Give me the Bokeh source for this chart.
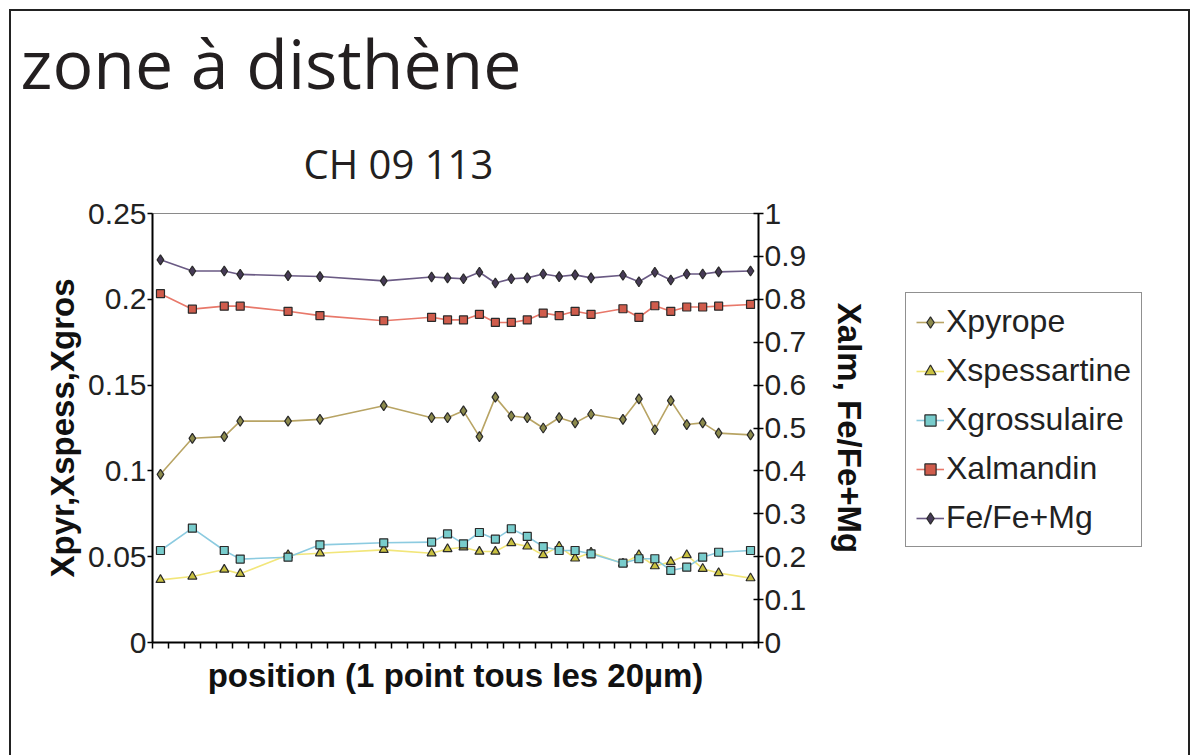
from bokeh.plotting import figure
from bokeh.layouts import row
from bokeh.models import (Range1d, LinearAxis, FixedTicker, Legend,
                          LegendItem, Title, InlineStyleSheet)
from bokeh.embed import file_html
from bokeh.resources import INLINE

# ---------------- data ----------------
TITLE = "zone à disthène"
SUBTITLE = "CH 09 113"
X_TITLE = "position (1 point tous les 20µm)"
Y_LEFT_TITLE = "Xpyr,Xspess,Xgros"
Y_RIGHT_TITLE = "Xalm, Fe/Fe+Mg"

N_CATEGORIES = 38
POSITION = [0, 2, 4, 5, 8, 10, 14, 17, 18, 19, 20, 21, 22, 23, 24, 25, 26, 27,
            29, 30, 31, 32, 33, 34, 35, 37]

X_PYROPE = [0.098, 0.119, 0.120, 0.129, 0.129, 0.130, 0.138, 0.131, 0.131,
            0.135, 0.120, 0.143, 0.132, 0.131, 0.125, 0.131, 0.128, 0.133,
            0.130, 0.142, 0.124, 0.141, 0.127, 0.128, 0.122, 0.121]
X_SPESSARTINE = [0.0365, 0.0385, 0.0425, 0.040, 0.051, 0.052, 0.054, 0.052,
                 0.0545, 0.0555, 0.053, 0.053, 0.058, 0.056, 0.051, 0.056,
                 0.049, 0.0525, 0.046, 0.051, 0.0445, 0.047, 0.051, 0.043,
                 0.0405, 0.0375]
X_GROSSULAIRE = [0.0536, 0.0666, 0.0536, 0.0486, 0.0497, 0.0569, 0.0581,
                 0.0585, 0.0633, 0.0575, 0.0641, 0.0602, 0.0663, 0.0618,
                 0.0559, 0.0536, 0.0536, 0.0517, 0.0462, 0.0488, 0.0488,
                 0.0420, 0.0439, 0.0497, 0.0526, 0.0536]
X_ALMANDIN = [0.813, 0.777, 0.784, 0.784, 0.772, 0.762, 0.750, 0.758, 0.752,
              0.752, 0.765, 0.746, 0.746, 0.752, 0.768, 0.762, 0.772, 0.765,
              0.778, 0.758, 0.785, 0.772, 0.782, 0.782, 0.784, 0.788]
FE_FE_MG = [0.892, 0.866, 0.866, 0.858, 0.855, 0.853, 0.843, 0.852, 0.850,
            0.848, 0.863, 0.838, 0.848, 0.850, 0.859, 0.853, 0.857, 0.850,
            0.856, 0.841, 0.863, 0.845, 0.859, 0.859, 0.864, 0.866]

LEFT_TICKS = [0, 0.05, 0.1, 0.15, 0.2, 0.25]
LEFT_TICK_LABELS = ["0", "0.05", "0.1", "0.15", "0.2", "0.25"]
RIGHT_TICKS = [0, 0.1, 0.2, 0.3, 0.4, 0.5, 0.6, 0.7, 0.8, 0.9, 1]
RIGHT_TICK_LABELS = ["0", "0.1", "0.2", "0.3", "0.4", "0.5", "0.6", "0.7",
                     "0.8", "0.9", "1"]

FONT = "Liberation Sans"
SERIES = [
    # name, values, y range, line colour, marker, size, marker fill
    ("Xpyrope", X_PYROPE, "default", "#b8a464", "diamond", 10, "#8c8a4c"),
    ("Xspessartine", X_SPESSARTINE, "default", "#f2e67a", "triangle", 9, "#c8c040"),
    ("Xgrossulaire", X_GROSSULAIRE, "default", "#8ccbe0", "square", 8, "#78cccc"),
    ("Xalmandin", X_ALMANDIN, "right", "#e8786a", "square", 8, "#d05c4c"),
    ("Fe/Fe+Mg", FE_FE_MG, "right", "#6a5a84", "diamond", 10, "#463a56"),
]

# ---------------- main chart ----------------
W, H = 1198, 755
W1 = 895                               # width of the chart part
FL, FT, FR, FB = 152, 213, 758, 642    # frame edges on the page
p = figure(width=W1, height=H, output_backend="svg", toolbar_location=None,
           x_range=Range1d(-0.5, N_CATEGORIES - 0.5), y_range=Range1d(0, 0.25),
           min_border_left=FL, min_border_right=W1 - FR,
           min_border_top=FT, min_border_bottom=H - FB)
p.title = None
p.extra_y_ranges = {"right": Range1d(0, 1)}
p.background_fill_color = "white"
p.border_fill_color = "white"
p.outline_line_color = "#8a8a8a"
p.outline_line_width = 1
p.xgrid.visible = False
p.ygrid.visible = False

# x axis: category separators only, no labels
xa = p.xaxis[0]
xa.ticker = FixedTicker(ticks=[], minor_ticks=[i - 0.5 for i in range(N_CATEGORIES + 1)])
xa.axis_line_color = "black"
xa.axis_line_width = 2
xa.minor_tick_out = 6
xa.minor_tick_in = 0
xa.minor_tick_line_width = 1.5
xa.minor_tick_line_color = "black"
xa.major_tick_line_color = None
xa.axis_label = X_TITLE
xa.axis_label_text_font = FONT
xa.axis_label_text_font_size = "33px"
xa.axis_label_text_font_style = "bold"
xa.axis_label_text_color = "#111111"
xa.axis_label_standoff = 8

# left axis
ya = p.yaxis[0]
ya.ticker = FixedTicker(ticks=LEFT_TICKS)
ya.major_label_overrides = dict(zip(LEFT_TICKS, LEFT_TICK_LABELS))
ya.major_label_text_font = FONT
ya.major_label_text_font_size = "30px"
ya.major_label_text_color = "#222222"
ya.major_label_standoff = 1
ya.axis_line_color = "black"
ya.axis_line_width = 2
ya.major_tick_out = 5
ya.major_tick_in = 0
ya.major_tick_line_width = 1.5
ya.minor_tick_line_color = None
ya.axis_label = Y_LEFT_TITLE
ya.axis_label_text_font = FONT
ya.axis_label_text_font_size = "33px"
ya.axis_label_text_font_style = "bold"
ya.axis_label_text_color = "#111111"
ya.axis_label_standoff = 4

# right axis
ra = LinearAxis(y_range_name="right", ticker=FixedTicker(ticks=RIGHT_TICKS))
ra.major_label_overrides = dict(zip(RIGHT_TICKS, RIGHT_TICK_LABELS))
ra.major_label_text_font = FONT
ra.major_label_text_font_size = "30px"
ra.major_label_text_color = "#222222"
ra.major_label_standoff = 1
ra.axis_line_color = "black"
ra.axis_line_width = 2
ra.major_tick_out = 5
ra.major_tick_in = 5
ra.major_tick_line_width = 1.5
ra.minor_tick_line_color = None
ra.axis_label = Y_RIGHT_TITLE
ra.axis_label_text_font = FONT
ra.axis_label_text_font_size = "33px"
ra.axis_label_text_font_style = "bold"
ra.axis_label_text_color = "#111111"
ra.axis_label_standoff = 22
p.add_layout(ra, "right")

for name, vals, rng, lcol, marker, size, fcol in SERIES:
    kw = {} if rng == "default" else {"y_range_name": rng}
    p.line(POSITION, vals, line_color=lcol, line_width=1.6, **kw)
    p.scatter(POSITION, vals, marker=marker, size=size, fill_color=fcol,
              line_color="#2a2a2a", line_width=1.2, **kw)

# titles (subtitle first: it sits nearest to the plot)
p.add_layout(Title(text=SUBTITLE, align="left", offset=151,
                   text_font="Open Sans", text_font_size="40px",
                   text_font_style="normal", text_color="#231f20",
                   standoff=45), "above")
p.add_layout(Title(text=TITLE, align="left", offset=20 - FL,
                   text_font="Open Sans", text_font_size="68px",
                   text_font_style="normal", text_color="#231f20",
                   standoff=6), "above")

# ---------------- legend part ----------------
# (its plot area is aligned with the chart's: y from 213 to 642 on the page)
W2 = W - W1
q = figure(width=W2, height=H, output_backend="svg", toolbar_location=None,
           x_range=Range1d(-0.5, N_CATEGORIES - 0.5), y_range=Range1d(10, 11),
           x_axis_location=None, y_axis_location=None, min_border=0)
q.title = None
q.extra_y_ranges = {"right": Range1d(10, 11)}
q.outline_line_color = None
q.xgrid.visible = False
q.ygrid.visible = False
q.background_fill_color = "white"
q.border_fill_color = "white"

items = []
for name, vals, rng, lcol, marker, size, fcol in SERIES:
    kw = {} if rng == "default" else {"y_range_name": rng}
    ln = q.line(POSITION, vals, line_color=lcol, line_width=1.6, **kw)
    sc = q.scatter(POSITION, vals, marker=marker, size=size, fill_color=fcol,
                   line_color="#2a2a2a", line_width=1.2, **kw)
    items.append(LegendItem(label=name, renderers=[ln, sc]))

legend = Legend(items=items, location=(905 - W1, FB - 547))
legend.label_text_font = FONT
legend.label_text_font_size = "32px"
legend.label_text_color = "#222222"
legend.label_height = 36
legend.glyph_height = 36
legend.glyph_width = 28
legend.spacing = 12
legend.padding = 10
legend.margin = 0
legend.label_standoff = 2
legend.border_line_color = "#222222"
legend.border_line_width = 1.5
legend.background_fill_color = "white"
legend.background_fill_alpha = 1
q.add_layout(legend)

# slide frame (top, left and right edges; bottom lies outside the window)
frame_css = InlineStyleSheet(css="""
:host::after {
  content: "";
  position: absolute;
  left: 9px; top: 9px;
  width: 1181px; height: 746px;
  box-sizing: border-box;
  border-top: 2px solid #222222;
  border-left: 2px solid #222222;
  border-right: 2px solid #222222;
  pointer-events: none;
  z-index: 1000;
}
""")

layout = row(p, q, spacing=0, stylesheets=[frame_css])

open("out.html", "w").write(file_html(layout, INLINE))
